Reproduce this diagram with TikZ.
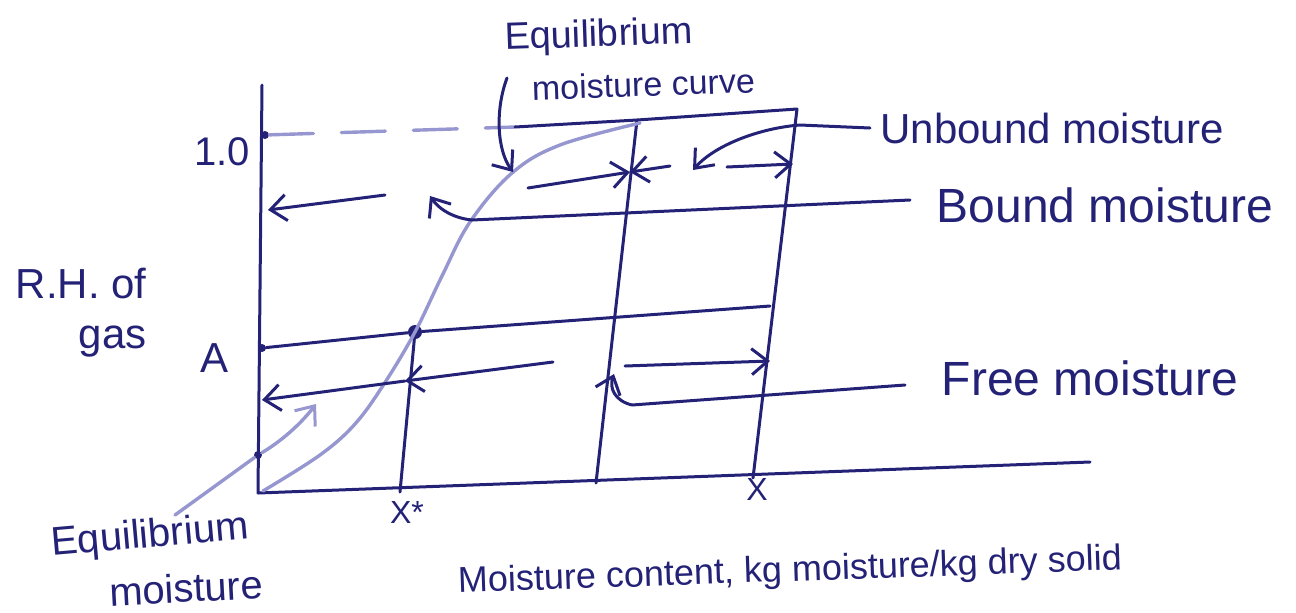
\documentclass[tikz,border=0pt]{standalone}
\usepackage{fontspec}
\setmainfont{Liberation Sans}
\usetikzlibrary{arrows.meta}
\definecolor{ink}{RGB}{36,34,118}
\definecolor{lightink}{RGB}{150,150,208}
\begin{document}
\begin{tikzpicture}[x=0.5pt,y=-0.5pt,
  inkline/.style={draw=ink, line width=1.5pt, line cap=round, line join=round},
  lightline/.style={draw=lightink, line width=1.7pt, line cap=round, line join=round},
  barb/.style={-{Straight Barb[length=8pt,width=13pt,line width=1.5pt]}},
  hand/.style={text=ink, inner sep=0pt, font=\fontsize{#1}{#1}\selectfont},
  hand/.default=22,
  dot/.style={circle, fill=ink, inner sep=0pt, minimum size=4pt}]
\useasboundingbox (0,0) rectangle (1296,612);

% axes
\coordinate (ytop) at (262,85);
\coordinate (O) at (258,493);
\coordinate (xend) at (1090,462);
\draw[inkline] (ytop) -- (O) -- (xend);

% ticks on y axis
\node[dot] (t10) at (265,135) {};
\node[dot] (tA) at (262,348) {};
\node[dot] (teq) at (258,455) {};
\node[dot, minimum size=7pt] (P) at (415,332) {};

% top line (RH = 1.0)
\coordinate (topmid) at (515,127);
\coordinate (mtop) at (637,120);
\coordinate (rtop) at (797,109);
\draw[lightline, dash pattern=on 22pt off 14pt] (t10) -- (topmid);
\draw[inkline] (topmid) -- (mtop) -- (rtop);

% vertical lines
\coordinate (mbot) at (596,483);
\coordinate (rbot) at (753,478);
\coordinate (xsbot) at (400,492);
\draw[inkline] (mtop) -- (mbot);
\draw[inkline] (rtop) -- (rbot);
\draw[inkline] (P) -- (xsbot);

% line at A
\coordinate (Aend) at (770,306);
\draw[inkline] (tA) -- (P) -- (Aend);

% equilibrium moisture curve
\draw[lightline] plot[smooth, tension=0.6] coordinates {(263,491) (320,455) (355,424) (384,384) (415,332) (442,276) (470,222) (512,173) (560,145) (640,123)};

% pointer to equilibrium curve
\coordinate (eqcs) at (507,78);
\coordinate (eqct) at (513,172);
\draw[inkline, barb] (eqcs) .. controls (495,110) and (497,150) .. (eqct);

% bound moisture
\coordinate (bndL) at (268,210);
\coordinate (bndR) at (385,195);
\draw[inkline, barb] (bndR) -- (bndL);
\coordinate (bndend) at (910,200);
\coordinate (bndmid) at (472,220);
\coordinate (bndtip) at (430,196);
\draw[inkline, barb] (bndend) -- (bndmid) .. controls (452,218) and (438,208) .. (bndtip);

% unbound moisture
\coordinate (ubA) at (528,188);
\coordinate (ubX) at (630,172);
\coordinate (ubB) at (670,166);
\coordinate (ubC) at (727,167);
\coordinate (ubD) at (793,164);
\draw[inkline, barb] (ubA) -- (ubX);
\draw[inkline, barb] (ubB) -- (ubX);
\draw[inkline, barb] (ubC) -- (ubD);
\coordinate (ubend) at (870,128);
\coordinate (ubk) at (800,125);
\coordinate (ubtip) at (693,170);
\draw[inkline, barb] (ubend) -- (ubk) .. controls (760,128) and (715,145) .. (ubtip);

% free moisture
\coordinate (frR) at (553,362);
\coordinate (frX) at (405,381);
\coordinate (frL) at (262,400);
\draw[inkline, barb] (frR) -- (frX);
\draw[inkline, barb] (frX) -- (frL);
\coordinate (frA) at (625,366);
\coordinate (frB) at (770,361);
\draw[inkline, barb] (frA) -- (frB);
\coordinate (frend) at (905,385);
\coordinate (frk) at (632,405);
\coordinate (frtip) at (614,374);
\draw[inkline, barb] (frend) -- (frk) .. controls (615,401) and (609,388) .. (frtip);

% equilibrium moisture pointer
\coordinate (emstart) at (175,515);
\coordinate (emtip) at (316,404);
\draw[lightline, -{Straight Barb[length=8pt,width=13pt,line width=1.5pt]}] (emstart) -- (teq) .. controls (280,442) and (300,425) .. (emtip);

% labels
\node[hand=20] (l10) at (222,152) {1.0};
\node[hand=21] (lA) at (215,358) {A};
\node[hand=21, align=right, anchor=north east] (lrh) at (147,268) {R.H. of\\[4pt]gas};
\node[hand=19, rotate=2, anchor=south west] (leq1) at (505,58) {Equilibrium};
\node[hand=17, rotate=2, anchor=south west] (leq2) at (532,101) {moisture curve};
\node[hand=21] (lub) at (1052,128) {Unbound moisture};
\node[hand=24] (lb) at (1105,205) {Bound moisture};
\node[hand=24] (lf) at (1090,378) {Free moisture};
\node[hand=16] (lxs) at (407,512) {X*};
\node[hand=16] (lx) at (757,489) {X};
\node[hand=20, rotate=5] (lem1) at (150,537) {Equilibrium};
\node[hand=20, rotate=3] (lem2) at (186,588) {moisture};
\node[hand=18, rotate=2] (lxa) at (790,572) {Moisture content, kg moisture/kg dry solid};
\end{tikzpicture}
\end{document}
